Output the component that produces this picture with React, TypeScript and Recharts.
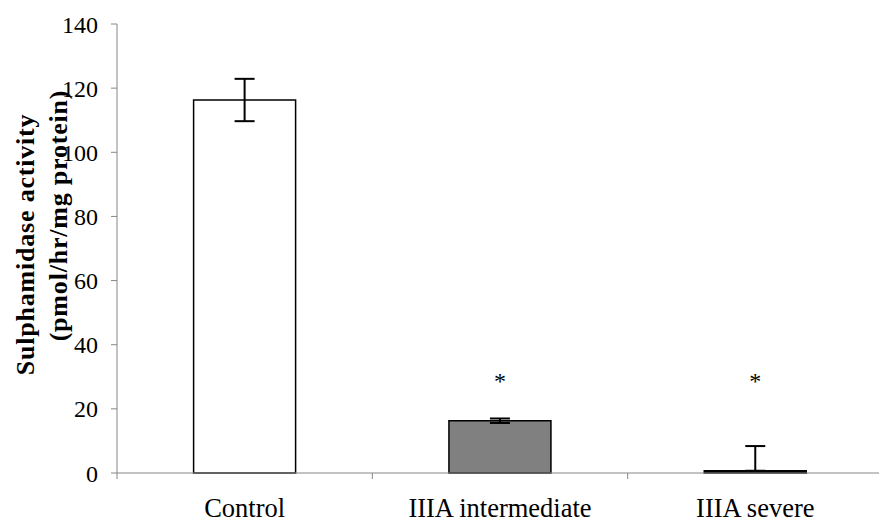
import React from 'react';
import { ComposedChart, Bar, Cell, ErrorBar, Scatter, XAxis, YAxis } from 'recharts';

// Sulphamidase activity per group, with SEM
const groups = ['Control', 'IIIA intermediate', 'IIIA severe'];
const activity = [116.3, 16.3, 0.7];
const errLow = [6.6, 0.7, 0];
const errHigh = [6.6, 0.7, 7.7];
const starLevel = [null, 29.5, 29.5];
const barFills = ['#ffffff', '#808080', '#000000'];
const yTicks = [0, 20, 40, 60, 80, 100, 120, 140];

const data = groups.map((name, i) => ({
  name,
  value: activity[i],
  err: [errLow[i], errHigh[i]],
  star: starLevel[i],
}));

const AXIS = '#868686';
const FONT = '"Liberation Serif", "Times New Roman", serif';

const CategoryTick = (props: any) => {
  const { x, y, payload, index } = props;
  const half = payload.offset ?? 0;
  return (
    <g>
      <line x1={x - half} x2={x - half} y1={y} y2={y + 6} stroke={AXIS} />
      {index === groups.length - 1 && (
        <line x1={x + half} x2={x + half} y1={y} y2={y + 6} stroke={AXIS} />
      )}
      <text x={x} y={y + 44} textAnchor="middle" fontSize={26.5} fontFamily={FONT} fill="#000">
        {payload.value}
      </text>
    </g>
  );
};

const ValueTick = (props: any) => {
  const { x, y, payload } = props;
  return (
    <text x={x} y={y} dy="0.36em" textAnchor="end" fontSize={24} fontFamily={FONT} fill="#000">
      {payload.value}
    </text>
  );
};

const YTitle = (props: any) => {
  const { viewBox } = props;
  const cy = viewBox.y + viewBox.height / 2;
  return (
    <g fontFamily={FONT} fontWeight="bold" fontSize={26} fill="#000" letterSpacing={0.8}>
      <text transform={`translate(25, ${cy - 4}) rotate(-90)`} textAnchor="middle" dominantBaseline="central">
        Sulphamidase activity
      </text>
      <text transform={`translate(58, ${cy - 33}) rotate(-90)`} textAnchor="middle" dominantBaseline="central">
        (pmol/hr/mg protein)
      </text>
    </g>
  );
};

const Star = (props: any) => {
  const { cx, cy } = props;
  if (cy == null || isNaN(cy)) return null;
  return (
    <text x={cx} y={cy} dy="0.45em" textAnchor="middle" fontSize={24} fontFamily={FONT} fill="#000">
      *
    </text>
  );
};

export default function App() {
  return (
    <div
      style={{
        position: 'absolute',
        left: 0,
        top: 0,
        width: 879,
        height: 522,
        overflow: 'hidden',
        background: '#fff',
        fontFamily: FONT,
      }}
    >
      <ComposedChart
        width={900}
        height={522}
        data={data}
        margin={{ top: 24, right: 17, bottom: 0, left: 0 }}
        barCategoryGap="30%"
      >
        <XAxis
          dataKey="name"
          axisLine={{ stroke: AXIS }}
          tickLine={false}
          tickSize={0}
          tickMargin={0}
          tick={<CategoryTick />}
          interval={0}
          height={49}
        />
        <YAxis
          domain={[0, 140]}
          ticks={yTicks}
          width={117}
          axisLine={{ stroke: AXIS }}
          tickLine={{ stroke: AXIS }}
          tickSize={6}
          tickMargin={13}
          tick={<ValueTick />}
          label={<YTitle />}
        />
        <Bar dataKey="value" stroke="#000" strokeWidth={1.5} isAnimationActive={false}>
          {data.map((d, i) => (
            <Cell key={d.name} fill={barFills[i]} />
          ))}
          <ErrorBar dataKey="err" width={10} stroke="#000" strokeWidth={2} />
        </Bar>
        <Scatter dataKey="star" shape={<Star />} isAnimationActive={false} />
      </ComposedChart>
    </div>
  );
}
